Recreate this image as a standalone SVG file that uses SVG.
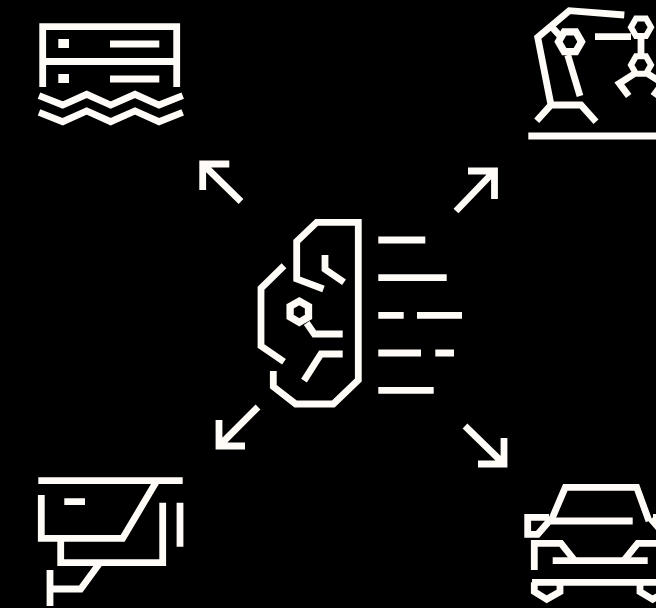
<svg xmlns="http://www.w3.org/2000/svg" width="656" height="608" viewBox="0 0 656 608">
<style>
.s{fill:none;stroke:#fffcf8;stroke-width:6.8;stroke-linejoin:miter;stroke-linecap:butt;stroke-miterlimit:10}
.h{stroke-width:7.3}
.k{stroke-width:6}
</style>
<rect width="656" height="608" fill="#000"/>
<g id="brain" class="s">
<path d="M323.5 289L296.7 279V241.5L316.7 222.3H358.3V380L333.3 404H295.7L273.3 386.7V371"/>
<path d="M284 265.7L261 288.3V346L284 361.7"/>
<path d="M325 255V269.3L344 282.3"/>
<path class="h" d="M299.3 301.1L308.5 306.4V317L299.3 322.3L290.1 317V306.4Z"/>
<path d="M306.7 323L314.3 334H342.7"/>
<path d="M304 380.7L321 354H342.7"/>
<path d="M378.3 240H425.3M378.3 277.7H446.7M378.3 315.3H403.7M417 315.3H462M378.3 353H421M435.3 353H454M378.3 390.3H433.7"/>
</g>
<g id="server" class="s">
<path d="M42.7 87V26.6H176.7V87M39.3 61.5H180"/>
<path d="M110 44H159.3M110 79H159.3"/>
<path d="M39 95.7L62.7 105L86.7 94.3L110.7 105L135 94.3L159 105L182.7 95.7M39 112.4L62.7 121.7L86.7 111L110.7 121.7L135 111L159 121.7L182.7 112.4"/>
<rect x="58.3" y="39" width="10.7" height="9" fill="#fffcf8" stroke="none"/>
<rect x="58.3" y="74" width="10.7" height="9" fill="#fffcf8" stroke="none"/>
</g>
<g id="robot" class="s">
<path d="M624.3 15L569.3 10.7L537.7 37.3L551 105M536.7 120.7L551 105H581L596 121.7"/>
<path d="M552.7 28L560 36"/>
<path class="h" d="M558.5 41.7L564.2 31.8H575.8L581.5 41.7L575.8 51.6H564.2Z"/>
<path d="M567.7 55L580 96"/>
<path d="M595 36.7H631"/>
<path class="k" d="M631 27.3L636 18.6H646L651 27.3L646 36H636Z"/>
<path d="M641 38V54"/>
<path class="k" d="M631 65L636 56.3H646L651 65L646 73.7H636Z"/>
<path d="M634 74L619.3 83.3L628.7 96M648 74L662.7 83.3L653.3 96"/>
<path d="M528.3 136H656"/>
</g>
<g id="camera" class="s">
<path d="M38.3 480.6H182.7"/>
<path d="M41.3 495V538.3H122.7L156.7 481"/>
<path d="M60.7 538.3V562.7H162.7V502.7"/>
<path d="M180 502.7V546.7M64.3 501.7H85"/>
<path d="M99 564L80.7 589H50M50 570V606"/>
</g>
<g id="car" class="s">
<path d="M551 521L565.3 487.3H636.7L649 521"/>
<path d="M551 521H632.7"/>
<path d="M549 517.3H527.7V534.3H537.7L551 519"/>
<path d="M653 517.3H674V534.3H664.3L651 519"/>
<path d="M534.3 570V543.3H561L574.3 560M624.3 560L637.7 543.3H656"/>
<path d="M552.7 560.7H647.7"/>
<path d="M532 582.3H656"/>
<path d="M534.3 582.3V591.7L546.7 599.3L560 591.7V582.3M640 582.3V591.7L652.7 599.3L666 591.7V582.3"/>
</g>
<g id="connectors" class="s">
<path d="M229.3 164H202.7V190M202.7 164L241 201.5"/>
<path d="M468 171H494.5V199M494.5 171L456 211"/>
<path d="M219 420V446H245M219 446L258 407"/>
<path d="M504 438V464H478M504 464L465 426"/>
</g>
</svg>
